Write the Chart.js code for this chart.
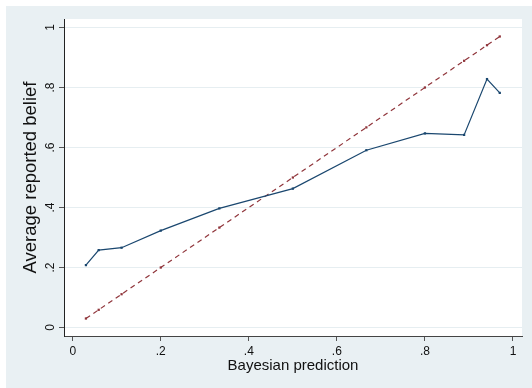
<!DOCTYPE html>
<html>
<head>
<meta charset="utf-8">
<script src="https://cdn.jsdelivr.net/npm/chart.js@4.4.1/dist/chart.umd.min.js"></script>
<style>
	html, body { margin: 0; padding: 0; background: #ffffff; }
	#wrap { width: 532px; height: 388px; }
</style>
</head>
<body>
<div id="wrap"><canvas id="beliefChart"></canvas></div>
<script>
// Bayesian prediction (x) for each bin
const bayesPrediction = [0.030, 0.059, 0.111, 0.200, 0.333, 0.500, 0.667, 0.800, 0.889, 0.941, 0.970];
// average reported belief per bin
const reportedBelief = [0.208, 0.258, 0.266, 0.323, 0.397, 0.463, 0.591, 0.647, 0.642, 0.828, 0.782];
// 45 degree reference line
const diagonalLine = [0.030, 0.059, 0.111, 0.200, 0.333, 0.500, 0.667, 0.800, 0.889, 0.941, 0.970];

const xTickValues = [0, 0.2, 0.4, 0.6, 0.8, 1];
const xTickLabels = ['0', '.2', '.4', '.6', '.8', '1'];
const yTickValues = [0, 0.2, 0.4, 0.6, 0.8, 1];
const yTickLabels = ['0', '.2', '.4', '.6', '.8', '1'];

const FONT = '"Liberation Sans", Arial, Helvetica, sans-serif';
const BG = '#e9f0f3';

// paints the stata style graph region and the white plot region
const backgroundPlugin = {
	id: 'stataBackground',
	beforeDraw(chart) {
		const { ctx, chartArea } = chart;
		ctx.save();
		ctx.fillStyle = '#ffffff';
		ctx.fillRect(0, 0, chart.width, chart.height);
		ctx.fillStyle = BG;
		ctx.fillRect(6, 6, chart.width - 6, chart.height - 6);
		ctx.fillStyle = '#ffffff';
		ctx.fillRect(chartArea.left, chartArea.top, chartArea.right - chartArea.left, chartArea.bottom - chartArea.top);
		ctx.restore();
	}
};

function toPoints(xs, ys) {
	return xs.map((x, i) => ({ x: x, y: ys[i] }));
}

const ctx = document.getElementById('beliefChart').getContext('2d');
new Chart(ctx, {
	type: 'line',
	data: {
		datasets: [
			{
				label: 'Average reported belief',
				data: toPoints(bayesPrediction, reportedBelief),
				borderColor: '#1a476f',
				backgroundColor: '#1a476f',
				borderWidth: 1.2,
				pointStyle: 'rect',
				pointRadius: 1.6,
				pointBorderWidth: 0,
				tension: 0
			},
			{
				label: 'Bayesian',
				data: toPoints(bayesPrediction, diagonalLine),
				borderColor: '#90353b',
				backgroundColor: '#90353b',
				borderWidth: 1.2,
				borderDash: [5, 4],
				pointStyle: 'rect',
				pointRadius: 1.6,
				pointBorderWidth: 0,
				tension: 0
			}
		]
	},
	options: {
		responsive: true,
		maintainAspectRatio: false,
		animation: false,
		layout: { padding: { left: 0, top: 19, right: 10, bottom: 0 } },
		plugins: {
			legend: { display: false },
			tooltip: { enabled: false }
		},
		scales: {
			x: {
				type: 'linear',
				min: -0.0198,
				max: 1.0205,
				afterBuildTicks: (scale) => { scale.ticks = xTickValues.map(v => ({ value: v })); },
				afterFit: (scale) => { scale.height = 52; },
				border: { display: true, color: '#444444', width: 1 },
				grid: {
					drawOnChartArea: false,
					drawTicks: true,
					tickLength: 5,
					tickColor: '#555555'
				},
				ticks: {
					padding: 3,
					color: '#111111',
					maxRotation: 0,
					font: { family: FONT, size: 12 },
					callback: (value, i) => xTickLabels[i]
				},
				title: {
					display: true,
					text: 'Bayesian prediction',
					color: '#111111',
					font: { family: FONT, size: 15 },
					padding: { top: 0, bottom: 13 }
				}
			},
			y: {
				type: 'linear',
				min: -0.0283,
				max: 1.0283,
				afterBuildTicks: (scale) => { scale.ticks = yTickValues.map(v => ({ value: v })); },
				afterFit: (scale) => { scale.width = 64; },
				border: { display: true, color: '#222222', width: 1 },
				grid: {
					color: '#e6eef1',
					lineWidth: 1,
					drawTicks: true,
					tickLength: 5,
					tickColor: '#555555'
				},
				ticks: {
					padding: 3,
					color: '#111111',
					minRotation: 90,
					maxRotation: 90,
					crossAlign: 'center',
					font: { family: FONT, size: 12 },
					callback: (value, i) => yTickLabels[i]
				},
				title: {
					display: true,
					text: 'Average reported belief',
					color: '#111111',
					font: { family: FONT, size: 18.5 },
					padding: { top: 20, bottom: 0 }
				}
			}
		}
	},
	plugins: [backgroundPlugin]
});
</script>
</body>
</html>
